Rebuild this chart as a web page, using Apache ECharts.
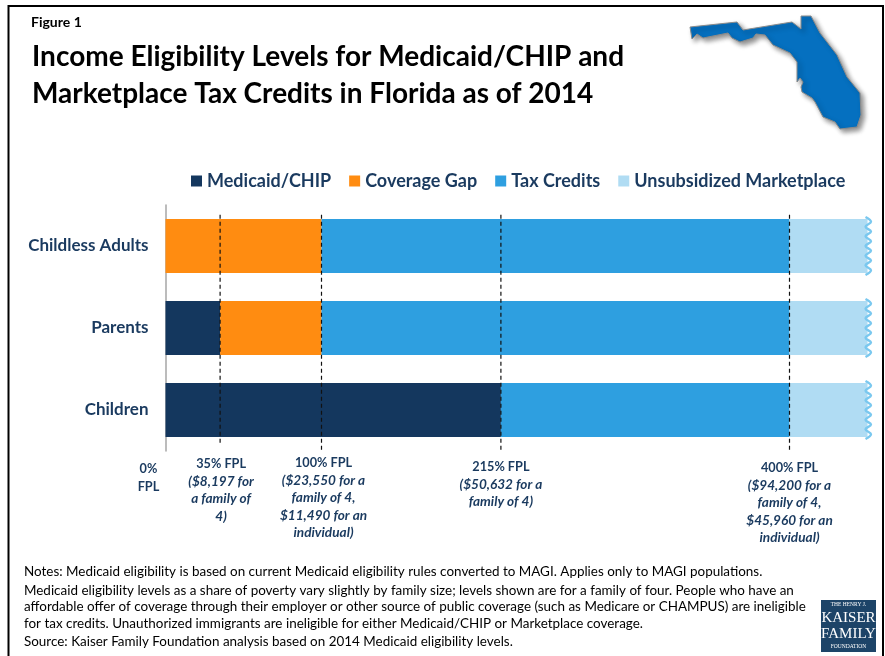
<!DOCTYPE html>
<html>
<head>
<meta charset="utf-8">
<title>Income Eligibility Levels</title>
<script src="https://cdn.jsdelivr.net/npm/echarts@6/dist/echarts.min.js"></script>
<style>
  html, body { margin: 0; padding: 0; background: #fff; }
  #chart { width: 885px; height: 656px; }
</style>
</head>
<body>
<div id="chart"></div>
<script>
// chart data
const categories = ['Childless Adults', 'Parents', 'Children'];
const medicaidChip = [0, 35, 215];
const coverageGap = [100, 65, 0];
const taxCredits = [300, 300, 185];
const unsubsidized = [50, 50, 50];
const axisEnd = 450;

const fplLevels = [35, 100, 215, 400];
const labelValues = [0, 35, 100, 215, 400];
const labelHeads = [['0%', 'FPL'], ['35% FPL'], ['100% FPL'], ['215% FPL'], ['400% FPL']];
const labelDetails = [
  [],
  ['($8,197 for', 'a family of', '4)'],
  ['($23,550 for a', 'family of 4,', '$11,490 for an', 'individual)'],
  ['($50,632 for a', 'family of 4)'],
  ['($94,200 for a', 'family of 4,', '$45,960 for an', 'individual)']
];

const titleLines = [
  'Income Eligibility Levels for Medicaid/CHIP and',
  'Marketplace Tax Credits in Florida as of 2014'
];
const noteLines = [
  'Notes: Medicaid eligibility is based on current Medicaid eligibility rules converted to MAGI. Applies only to MAGI populations.',
  'Medicaid eligibility levels as a share of poverty vary slightly by family size; levels shown are for a family of four. People who have an',
  'affordable offer of coverage through their employer or other source of public coverage (such as Medicare or CHAMPUS) are ineligible',
  'for tax credits. Unauthorized immigrants are ineligible for either Medicaid/CHIP or Marketplace coverage.',
  'Source: Kaiser Family Foundation analysis based on 2014 Medicaid eligibility levels.'
];

// layout
const FONT = 'Lato, "Open Sans", sans-serif';
const NAVY = '#1a3a5f';
const BAR_H = 54;
const labelShiftX = [-17, 1, 2, 0, 0];
const labelTop = [469, 464, 463, 467, 468];
const noteY = [572, 591, 607, 624, 642];
const lineEndRatio = [3, 0.4, 0.2, 0.2];

const floridaShape = [
  [690,27],[737,22],[743,30],[792,22],[801,29],[801,16],[811,16],[820,33],[837,55],[847,77],
  [860,93],[861,115],[857,127],[840,129],[835,122],[823,117],[815,102],[812,98],[802,92],
  [801,87],[803,82],[800,78],[797,82],[797,62],[790,53],[773,45],[765,35],[756,34],[753,38],
  [740,42],[732,38],[728,33],[703,38],[697,34],[692,39]
];

function barSeries(name, values, color) {
  return {
    name,
    type: 'bar',
    stack: 'total',
    barWidth: BAR_H,
    data: values,
    itemStyle: { color },
    silent: true
  };
}

// wavy edge on the right of each bar
function renderWave(params, api) {
  const pos = api.coord([api.value(0), api.value(1)]);
  const points = [];
  const steps = 13;
  for (let i = 0; i < steps; i++) {
    const y = pos[1] - BAR_H / 2 - 2 + (i * (BAR_H + 4)) / (steps - 1);
    points.push([pos[0] + (i % 2 ? 3.5 : -2), y]);
  }
  return {
    type: 'polyline',
    shape: { points, smooth: 0.4 },
    style: { stroke: '#7ac8ef', lineWidth: 2.4, fill: null }
  };
}

// text under the axis, one block per FPL level
function renderFplLabel(params, api) {
  const i = params.dataIndex;
  const x = api.coord([api.value(0), 0])[0] + labelShiftX[i];
  const children = [];
  let y = labelTop[i];
  labelHeads[i].forEach((t) => {
    children.push({
      type: 'text',
      style: { text: t, x, y, align: 'center', verticalAlign: 'middle', font: 'bold 12.7px ' + FONT, fill: NAVY }
    });
    y += 17.5;
  });
  labelDetails[i].forEach((t) => {
    children.push({
      type: 'text',
      style: { text: t, x, y, align: 'center', verticalAlign: 'middle', font: 'italic bold 13.6px ' + FONT, fill: NAVY }
    });
    y += 17.5;
  });
  return { type: 'group', children };
}

const fplLineSeries = fplLevels.map((v, i) => ({
  type: 'line',
  yAxisIndex: 1,
  data: [[v, 96], [v, lineEndRatio[i]]],
  symbol: 'none',
  silent: true,
  z: 5,
  lineStyle: { color: '#111', width: 1.2, type: [4, 3] }
}));

const graphics = [
  {
    type: 'rect',
    shape: { x: 8.5, y: 6, width: 874.5, height: 660 },
    style: { fill: null, stroke: '#000', lineWidth: 2 },
    silent: true
  },
  {
    type: 'text',
    style: { text: 'Figure 1', x: 31, y: 22, verticalAlign: 'middle', font: 'bold 14px ' + FONT, fill: '#000' }
  },
  {
    type: 'polygon',
    shape: { points: floridaShape },
    style: {
      fill: '#0570c0',
      stroke: '#8a8a8a',
      lineWidth: 1,
      shadowBlur: 5,
      shadowOffsetX: 3,
      shadowOffsetY: 3,
      shadowColor: 'rgba(0,0,0,0.45)'
    }
  },
  // logo block
  { type: 'rect', shape: { x: 821, y: 600, width: 55, height: 52 }, style: { fill: '#1d4468' } }
];

titleLines.forEach((t, i) => {
  graphics.push({
    type: 'text',
    style: { text: t, x: 32, y: 57 + i * 36.5, verticalAlign: 'middle', font: 'bold 28px ' + FONT, fill: '#000' }
  });
});
noteLines.forEach((t, i) => {
  graphics.push({
    type: 'text',
    style: { text: t, x: 24, y: noteY[i], verticalAlign: 'middle', font: '13.45px ' + FONT, fill: '#000' }
  });
});
[
  ['THE HENRY J.', 605, '5.5px'],
  ['KAISER', 618, '15px'],
  ['FAMILY', 634, '15px'],
  ['FOUNDATION', 647, '5.5px']
].forEach(([t, y, size]) => {
  graphics.push({
    type: 'text',
    style: { text: t, x: 848.5, y, align: 'center', verticalAlign: 'middle', font: size + ' "Liberation Serif", serif', fill: '#fff' }
  });
});

const chart = echarts.init(document.getElementById('chart'));
chart.setOption({
  animation: false,
  textStyle: { fontFamily: FONT },
  grid: { left: 165.5, top: 205, width: 702, height: 246 },
  legend: {
    left: 186,
    top: 167,
    icon: 'rect',
    itemWidth: 11,
    itemHeight: 11,
    itemGap: 18,
    data: ['Medicaid/CHIP', 'Coverage Gap', 'Tax Credits', 'Unsubsidized Marketplace'],
    textStyle: { color: NAVY, fontSize: 18, fontWeight: 'bold', fontFamily: FONT }
  },
  xAxis: { type: 'value', min: 0, max: axisEnd, show: false },
  yAxis: [
    {
      type: 'category',
      data: categories,
      inverse: true,
      axisLine: { lineStyle: { color: '#a6a6a6', width: 1.5 } },
      axisTick: { length: 5, lineStyle: { color: '#a6a6a6', width: 1.5 } },
      axisLabel: { color: NAVY, fontSize: 17, fontWeight: 'bold', margin: 17 }
    },
    { type: 'value', min: 0, max: 100, show: false }
  ],
  series: [
    barSeries('Medicaid/CHIP', medicaidChip, '#14375e'),
    barSeries('Coverage Gap', coverageGap, '#ff8c11'),
    barSeries('Tax Credits', taxCredits, '#2e9fe0'),
    barSeries('Unsubsidized Marketplace', unsubsidized, '#b0dcf3'),
    {
      type: 'custom',
      renderItem: renderWave,
      data: categories.map((c, i) => [axisEnd, i]),
      z: 4,
      silent: true
    },
    ...fplLineSeries,
    {
      type: 'custom',
      yAxisIndex: 1,
      renderItem: renderFplLabel,
      data: labelValues.map((v) => [v, 0]),
      clip: false,
      silent: true,
      z: 6
    }
  ],
  graphic: graphics
});
</script>
</body>
</html>
